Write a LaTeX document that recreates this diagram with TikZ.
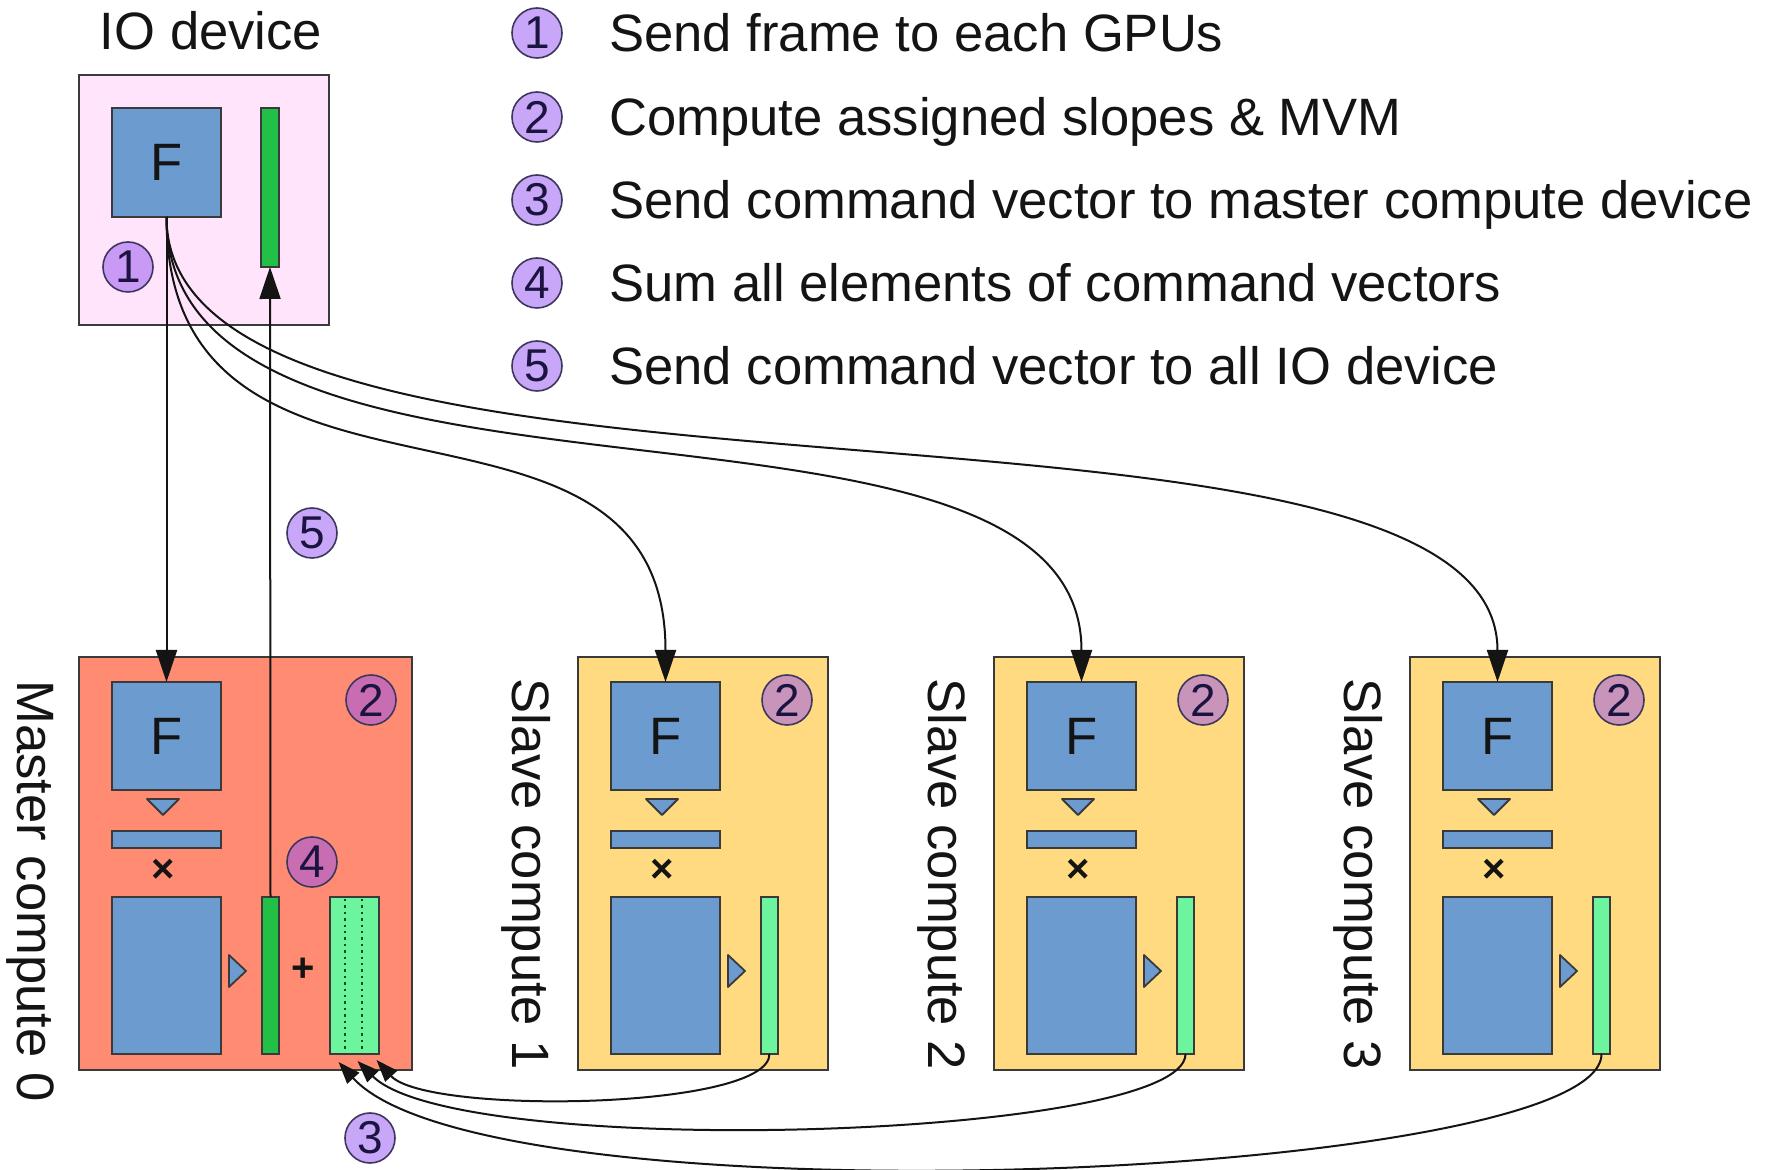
\documentclass[tikz,border=0pt]{standalone}
\usepackage{fontspec}
\setmainfont{Liberation Sans}
\usetikzlibrary{arrows.meta,calc}

\definecolor{ioPink}{HTML}{FFE4FC}
\definecolor{masterRed}{HTML}{FF8C72}
\definecolor{slaveGold}{HTML}{FFDA80}
\definecolor{matBlue}{HTML}{6B9BCF}
\definecolor{vecGreen}{HTML}{22C046}
\definecolor{vecLight}{HTML}{6CF59C}
\definecolor{stepPurple}{HTML}{9450F2}
\definecolor{edgeGrey}{HTML}{3A3A3A}
\definecolor{ink}{HTML}{141414}
\definecolor{digitInk}{HTML}{1C1440}

\tikzset{
  pxbox/.style 2 args={draw=edgeGrey, line width=1pt, minimum width=#1*0.5pt,
    minimum height=#2*0.5pt, inner sep=0pt, outer sep=0pt, anchor=north west},
  stepnum/.style={circle, draw=digitInk!85, line width=0.8pt, fill=stepPurple,
    fill opacity=0.5, text opacity=1, minimum size=25pt, inner sep=0pt,
    text=digitInk, font=\fontsize{23}{23}\selectfont},
  bluetri/.style={draw=edgeGrey, line width=0.9pt, fill=matBlue, line join=round},
  bigarrow/.style={draw=ink, line width=1pt, -{Triangle[length=16pt,width=10.5pt]}},
  smallarrow/.style={draw=ink, line width=1pt, -{Triangle[length=11pt,width=8pt]}},
  oplabel/.style={font=\fontsize{20}{20}\selectfont\bfseries, text=ink, inner sep=0pt},
}

\begin{document}
\begin{tikzpicture}[x=0.5pt, y=-0.5pt, font=\fontsize{26.3}{30}\selectfont, text=ink]
\useasboundingbox (0,0) rectangle (1769,1170);
\fill[white] (0,0) rectangle (1769,1170);

% ---- IO device ----
\node[anchor=base, inner sep=0pt] (iolabel) at (211,50) {IO device};
\node[pxbox={250}{250}, fill=ioPink] (io) at (79,75) {};
\node[pxbox={109}{109}, fill=matBlue] (ioF) at (112,108) {F};
\node[pxbox={18}{159}, fill=vecGreen] (ioG) at (261,108) {};
\node[stepnum] (n1) at (128,267) {1};

% ---- legend ----
\node[stepnum] (lg1) at (537,33) {1};
\node[anchor=base west, inner sep=0pt] (lt1) at (609,51.5) {Send frame to each GPUs};
\node[stepnum] (lg2) at (537,117) {2};
\node[anchor=base west, inner sep=0pt] (lt2) at (609,135.5) {Compute assigned slopes \& MVM};
\node[stepnum] (lg3) at (537,200) {3};
\node[anchor=base west, inner sep=0pt] (lt3) at (609,218.5) {Send command vector to master compute device};
\node[stepnum] (lg4) at (537,283) {4};
\node[anchor=base west, inner sep=0pt] (lt4) at (609,301.5) {Sum all elements of command vectors};
\node[stepnum] (lg5) at (537,366) {5};
\node[anchor=base west, inner sep=0pt] (lt5) at (609,384.5) {Send command vector to all IO device};

% ---- compute devices ----
\foreach \nm/\L/\W/\col/\gcol in {m0/79/333/masterRed/vecGreen,
    s1/578/250/slaveGold/vecLight, s2/994/250/slaveGold/vecLight,
    s3/1410/250/slaveGold/vecLight} {
  \node[pxbox={\W}{413}, fill=\col] (\nm) at (\L,657) {};
  \node[pxbox={109}{108}, fill=matBlue] (\nm-F) at (\L+33,682) {F};
  \draw[bluetri] (\L+68,799) -- (\L+100,799) -- (\L+84,815) -- cycle;
  \node[pxbox={109}{17}, fill=matBlue] (\nm-B) at (\L+33,831) {};
  \node[oplabel] (\nm-X) at (\L+84,871) {×};
  \node[pxbox={109}{157}, fill=matBlue] (\nm-M) at (\L+33,897) {};
  \draw[bluetri] (\L+150,955) -- (\L+167,971) -- (\L+150,987) -- cycle;
  \node[pxbox={17}{157}, fill=\gcol] (\nm-G) at (\L+183,897) {};
  \node[stepnum] (\nm-two) at (\L+\W-41,700) {2};
}

% device labels, reading downwards
\node[rotate=-90, anchor=base west, inner sep=0pt] (m0-lab) at (18,680) {Master compute 0};
\node[rotate=-90, anchor=base west, inner sep=0pt] (s1-lab) at (512,678) {Slave compute 1};
\node[rotate=-90, anchor=base west, inner sep=0pt] (s2-lab) at (928,678) {Slave compute 2};
\node[rotate=-90, anchor=base west, inner sep=0pt] (s3-lab) at (1344,678) {Slave compute 3};

% summation on the master device
\node[oplabel] (plus) at (303,970) {+};
\node[pxbox={49}{157}, fill=vecLight] (vsum) at (330,897) {};
\draw[vecGreen!40!black, dotted, line width=1.2pt]
  ($(vsum.north west)+(15,2)$) -- ($(vsum.south west)+(15,-2)$);
\draw[vecGreen!40!black, dotted, line width=1.2pt]
  ($(vsum.north west)+(32,2)$) -- ($(vsum.south west)+(32,-2)$);
\node[stepnum] (n4) at (312,862) {4};
\node[stepnum] (n3) at (370,1138) {3};
\node[stepnum] (n5) at (312,533) {5};

% ---- step 1: frame to every device ----
\draw[bigarrow] (ioF.south) -- (m0-F.north);
\foreach \s in {s1,s2,s3}
  \draw[bigarrow] (ioF.south) .. controls +(0,343) and +(0,-336) .. (\s-F.north);

% ---- step 5: result back to the IO device ----
\draw[bigarrow] (m0-G.north) -- (ioG.south);

% ---- step 3: partial vectors to the master ----
\coordinate (in1) at ($(vsum.south)+(22,6)$);
\coordinate (in2) at ($(vsum.south)+(3,7)$);
\coordinate (in3) at ($(vsum.south)+(-16,8)$);
\draw[smallarrow] (s1-G.south) .. controls +(0,56) and +(50,55) .. (in1);
\draw[smallarrow] (s2-G.south) .. controls +(0,86) and +(100,100) .. (in2);
\draw[smallarrow] (s3-G.south) .. controls +(0,126) and +(150,165) .. (in3);
\end{tikzpicture}
\end{document}
